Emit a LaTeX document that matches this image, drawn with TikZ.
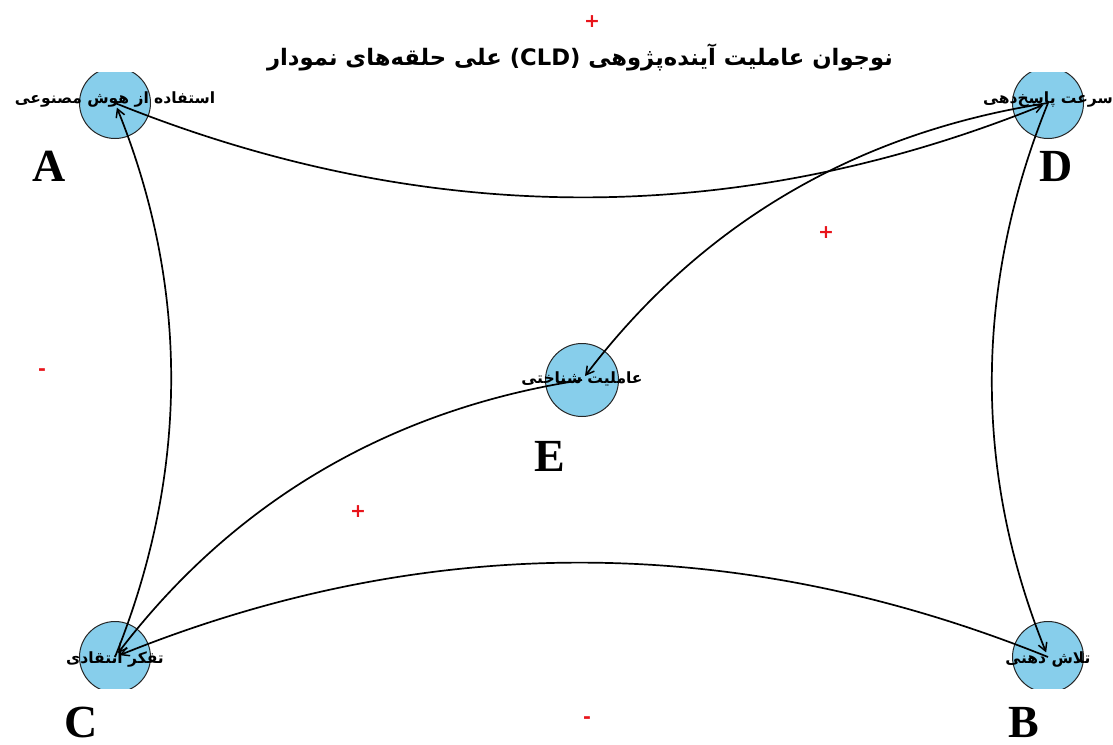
\documentclass[tikz,border=0pt]{standalone}
\usepackage{fontspec}
\usepackage{tikz}
\usetikzlibrary{arrows.meta,positioning}
\TeXXeTstate=1
\newfontfamily\farsifont[Script=Arabic]{DejaVu Sans}
\newfontfamily\signfont{DejaVu Sans}
\newfontfamily\letterfont{Liberation Serif}
\definecolor{cldblue}{HTML}{87CEEB}
\definecolor{cldred}{HTML}{E8141B}
% one word per box, boxes set left to right as in the printed title
\newcommand{\wbox}[1]{\hbox{#1}}

\begin{document}
\begin{tikzpicture}[
  x=1pt,y=-1pt,
  factor/.style={circle,draw=black!85,line width=1pt,fill=cldblue,minimum size=71pt,inner sep=0pt},
  factorlabel/.style={font=\farsifont\bfseries\fontsize{15.5}{17}\selectfont,inner sep=0pt},
  link/.style={-{Straight Barb[length=8pt,width=9pt,line width=1.5pt]},line width=1.7pt,black,shorten >=5pt,bend right=22,looseness=0.92},
  sign/.style={text=cldred,font=\signfont\bfseries\fontsize{19}{20}\selectfont,inner sep=0pt},
  tag/.style={font=\letterfont\bfseries\fontsize{46}{48}\selectfont,inner sep=0pt}
]
  \useasboundingbox (0,0) rectangle (1113,744);

  % factors, cut by the plot frame
  \begin{scope}
    \clip (0,72) rectangle (1113,688);
    \node[factor] (ai) at (115,103) {};
    \node[factor] (speed) at (1048,103) {};
    \node[factor,minimum size=73pt] (agency) at (582,380) {};
    \node[factor] (critical) at (115,657) {};
    \node[factor] (effort) at (1048,657) {};
  \end{scope}

  % causal links
  \draw[link] (ai.center) to (speed.center);
  \draw[link] (speed.center) to (effort.center);
  \draw[link] (effort.center) to (critical.center);
  \draw[link] (critical.center) to (ai.center);
  \draw[link] (speed.center) to (agency.center);
  \draw[link] (agency.center) to (critical.center);

  % labels
  \node[factorlabel] (ailbl) at (115,100) {\beginR استفاده از هوش مصنوعی\endR};
  \node[factorlabel] (speedlbl) at (1048,100) {\beginR سرعت پاسخ‌دهی\endR};
  \node[factorlabel] (agencylbl) at (582,379) {\beginR عاملیت شناختی\endR};
  \node[factorlabel] (criticallbl) at (115,659) {\beginR تفکر انتقادی\endR};
  \node[factorlabel] (effortlbl) at (1048,659) {\beginR تلاش ذهنی\endR};

  \node[font=\farsifont\bfseries\fontsize{22.7}{24}\selectfont,inner sep=0pt] (title) at (580,57)
    {\wbox{نمودار}\ \wbox{حلقه‌های}\ \wbox{علی}\ \wbox{(CLD)}\ \wbox{آینده‌پژوهی}\ \wbox{عاملیت}\ \wbox{نوجوان}};

  % polarity signs
  \node[sign] (s1) at (592,22) {+};
  \node[sign] (s2) at (826,233) {+};
  \node[sign] (s3) at (42,372) {-};
  \node[sign] (s4) at (358,512) {+};
  \node[sign] (s5) at (587,720) {-};

  % letters
  \node[tag] (ta) at (49,166) {A};
  \node[tag] (td) at (1056,166) {D};
  \node[tag] (te) at (550,456) {E};
  \node[tag] (tc) at (81,722) {C};
  \node[tag] (tb) at (1024,722) {B};
\end{tikzpicture}
\end{document}
